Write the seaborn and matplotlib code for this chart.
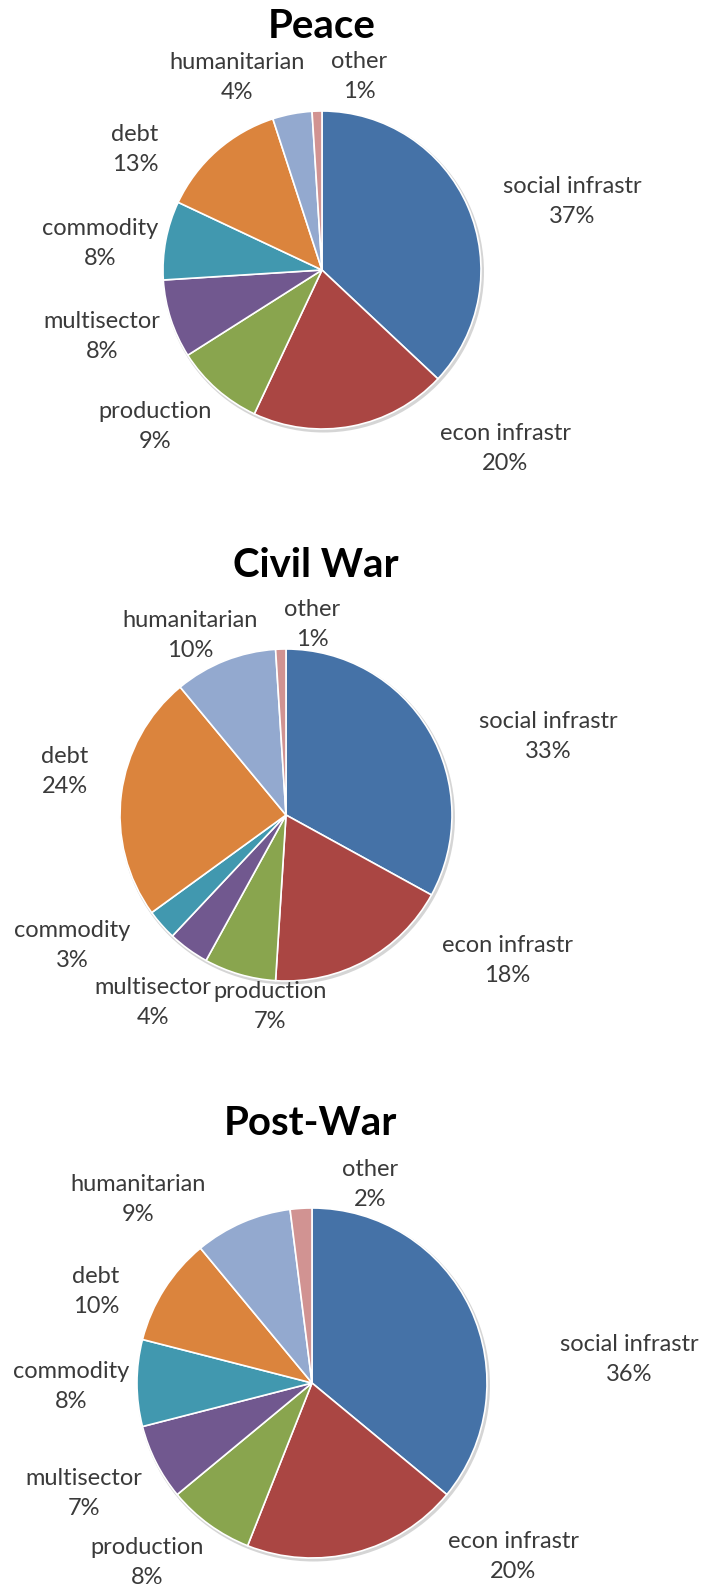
import matplotlib
matplotlib.use("Agg")
import matplotlib.pyplot as plt
import seaborn as sns
from matplotlib.patches import Circle

# Aid composition by sector, share of total (%)
categories = ["social infrastr", "econ infrastr", "production", "multisector",
              "commodity", "debt", "humanitarian", "other"]
peace = [37, 20, 9, 8, 8, 13, 4, 1]
civil_war = [33, 18, 7, 4, 3, 24, 10, 1]
post_war = [36, 20, 8, 7, 8, 10, 9, 2]
titles = ["Peace", "Civil War", "Post-War"]

sns.set_theme(style="white")
plt.rcParams["font.family"] = ["Lato", "DejaVu Sans"]

palette = sns.color_palette(["#4572A7", "#AA4643", "#89A54E", "#71588F",
                             "#4198AF", "#DB843D", "#93A9CF", "#D19392"])

W, H, DPI = 701, 1587, 100
LABEL_FS = 17
TITLE_FS = 29
LABEL_COLOR = "#3a3a3a"
LINE_UP, LINE_DOWN = 7, 23   # baseline offsets of the two label lines from the label centre

# Panel layout in pixels, measured from the top-left corner of the figure
panels = [
    dict(values=peace, band=(0, 470), center=(322, 270), radius=159,
         title_pos=(322, 38),
         label_pos=[(572, 200), (505, 447), (155, 425), (102, 335),
                    (100, 242), (135, 148), (237, 76), (359, 75)]),
    dict(values=civil_war, band=(490, 1045), center=(286, 815), radius=166,
         title_pos=(316, 577),
         label_pos=[(548, 735), (507, 959), (270, 1005), (153, 1001),
                    (72, 944), (65, 770), (190, 634), (312, 623)]),
    dict(values=post_war, band=(1050, 1587), center=(312, 1383), radius=175,
         title_pos=(310, 1135),
         label_pos=[(629, 1358), (513, 1555), (147, 1561), (84, 1492),
                    (71, 1385), (96, 1290), (138, 1198), (370, 1183)]),
]

fig = plt.figure(figsize=(W / DPI, H / DPI), dpi=DPI, facecolor="white")

for title, p in zip(titles, panels):
    top, bottom = p["band"]
    box = [0, 1 - bottom / H, 1, (bottom - top) / H]
    ax = fig.add_axes(box)
    cx, cy = p["center"]
    r = p["radius"]

    # soft drop shadow under the pie
    ax.add_patch(Circle((cx + 1.5, H - cy - 2), r + 1.5, facecolor="#c4c4c4",
                        edgecolor="none", alpha=0.7, zorder=0))
    ax.pie(p["values"], colors=palette, startangle=90, counterclock=False,
           center=(cx, H - cy), radius=r, frame=False,
           wedgeprops=dict(edgecolor="white", linewidth=1.2))

    ax.set_xlim(0, W)
    ax.set_ylim(H - bottom, H - top)
    ax.set_aspect("auto")
    ax.set_position(box)
    ax.axis("off")

    for name, val, (lx, ly) in zip(categories, p["values"], p["label_pos"]):
        ax.text(lx, H - (ly - LINE_UP), name, ha="center", va="baseline",
                fontsize=LABEL_FS, color=LABEL_COLOR, clip_on=True)
        ax.text(lx, H - (ly + LINE_DOWN), f"{val}%", ha="center", va="baseline",
                fontsize=LABEL_FS, color=LABEL_COLOR, clip_on=True)

    tx, ty = p["title_pos"]
    ax.text(tx, H - ty, title, ha="center", va="baseline",
            fontsize=TITLE_FS, fontweight="bold", color="black")

fig.savefig("out.png", dpi=DPI, facecolor="white")
